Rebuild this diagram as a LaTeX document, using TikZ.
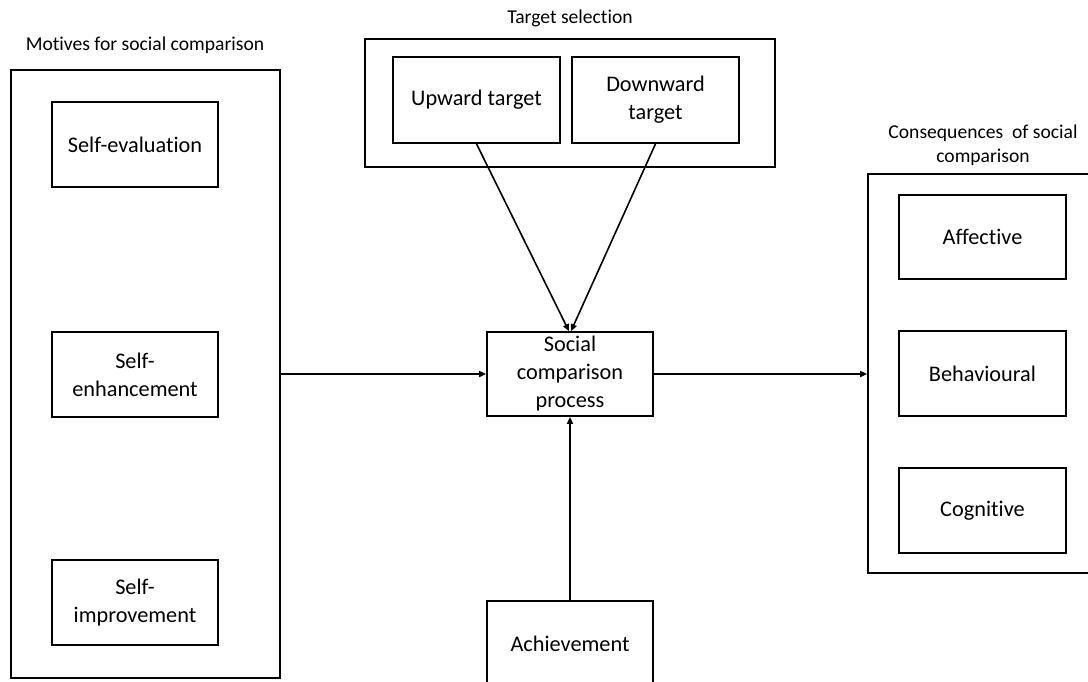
\documentclass[tikz,border=0pt]{standalone}
\usepackage{fontspec}
\setmainfont[Ligatures={NoCommon}]{Carlito}
\usetikzlibrary{arrows.meta}
\begin{document}
\begin{tikzpicture}[x=1pt,y=-1pt,
  box/.style={draw, line width=1.7pt, inner sep=0pt, align=center,
    font=\fontsize{22.3}{28}\selectfont},
  frame/.style={draw, line width=1.7pt, inner sep=0pt},
  heading/.style={font=\fontsize{19.6}{24}\selectfont, align=center, inner sep=0pt},
  link/.style={line width=1.6pt, -{Triangle[length=7pt,width=6pt]}}]
\useasboundingbox (0,0) rectangle (1088,681);
\clip (0,0) rectangle (1088,681);

% motives
\node[heading] (motlabel) at (145,45) {Motives for social comparison};
\node[frame, minimum width=269pt, minimum height=608pt] (motives) at (145.5,374) {};
\node[box, minimum width=166pt, minimum height=85pt] (seval) at (135,144.5) {Self-evaluation};
\node[box, minimum width=166pt, minimum height=85pt] (senh) at (135,374.5) {Self-\\enhancement};
\node[box, minimum width=166pt, minimum height=85pt] (simp) at (135,602.5) {Self-\\improvement};

% target selection
\node[heading] (tgtlabel) at (570,18) {Target selection};
\node[frame, minimum width=410pt, minimum height=128pt] (target) at (570,103) {};
\node[box, minimum width=167pt, minimum height=86pt] (up) at (476.5,100) {Upward target};
\node[box, minimum width=167pt, minimum height=86pt] (down) at (655.5,100) {Downward\\target};

% central process and achievement
\node[box, minimum width=166pt, minimum height=84pt] (social) at (570,374) {Social\\comparison\\process};
\node[box, minimum width=166pt, minimum height=85pt] (ach) at (570,643.5) {Achievement};

% consequences
\node[heading] (conlabel) at (983,145) {Consequences\ \ of social\\comparison};
\node[frame, minimum width=240pt, minimum height=399pt] (cons) at (988,373.5) {};
\node[box, minimum width=167pt, minimum height=84pt] (aff) at (982.5,237) {Affective};
\node[box, minimum width=167pt, minimum height=85pt] (beh) at (982.5,373.5) {Behavioural};
\node[box, minimum width=167pt, minimum height=85pt] (cog) at (982.5,510.5) {Cognitive};

% connectors
\draw[link] (up.south) -- ([xshift=-1pt]social.north);
\draw[link] (down.south) -- ([xshift=1pt]social.north);
\draw[link] (motives.east) -- (social.west);
\draw[link] (social.east) -- (social.east -| cons.west);
\draw[link] (ach.north) -- (social.south);
\end{tikzpicture}
\end{document}
